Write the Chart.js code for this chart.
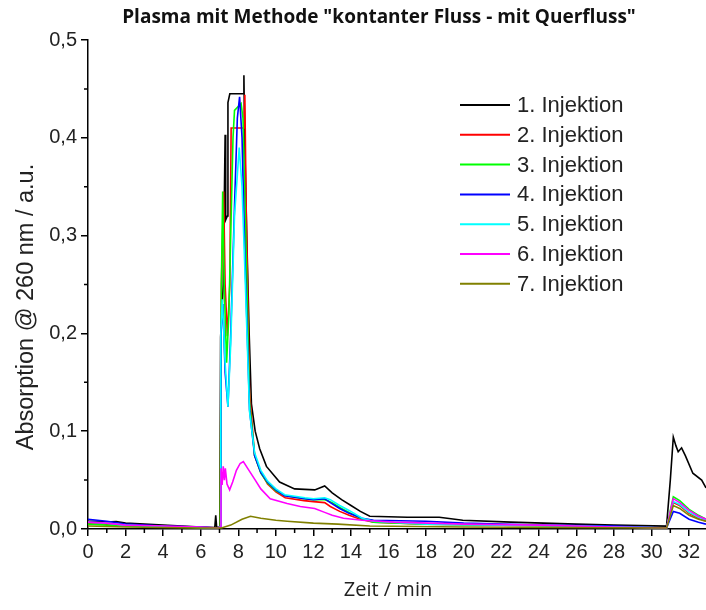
<!DOCTYPE html>
<html>
<head>
<meta charset="utf-8">
<script src="https://cdn.jsdelivr.net/npm/chart.js@4.4.1/dist/chart.umd.min.js"></script>
<style>
    html, body { margin: 0; padding: 0; background: #fff; }
    #wrap { width: 706px; height: 610px; }
</style>
</head>
<body>
<div id="wrap"><canvas id="chromChart"></canvas></div>
<script>
// Zeit (min) und Absorption je Injektion
const zeit1 = [0, 0.5, 1, 1.5, 2, 3, 4, 5, 6, 6.75, 6.8, 6.85, 7.02, 7.06, 7.2, 7.3, 7.33, 7.42, 7.45, 7.55, 8.27, 8.3, 8.34, 8.45, 8.58, 8.7, 8.9, 9.14, 9.5, 10.2, 11.0, 12.07, 12.6, 13.0, 13.5, 14.0, 14.5, 15.0, 17, 18.7, 19.95, 22.5, 26, 28, 30.8, 31.0, 31.16, 31.3, 31.42, 31.6, 31.8, 32.2, 32.67, 32.9];
const abs1 = [0.008, 0.008, 0.007, 0.0075, 0.006, 0.005, 0.004, 0.003, 0.002, 0.0015, 0.014, 0.0015, 0.002, 0.196, 0.25, 0.403, 0.316, 0.32, 0.436, 0.445, 0.445, 0.464, 0.40, 0.30, 0.20, 0.128, 0.10, 0.082, 0.064, 0.048, 0.041, 0.040, 0.044, 0.037, 0.030, 0.024, 0.018, 0.013, 0.012, 0.012, 0.009, 0.007, 0.005, 0.004, 0.003, 0.05, 0.094, 0.085, 0.079, 0.083, 0.075, 0.057, 0.050, 0.042];

const zeit2 = [0, 1, 2, 3, 5, 6.9, 7.04, 7.1, 7.22, 7.3, 7.42, 7.55, 7.62, 8.3, 8.35, 8.42, 8.6, 8.87, 9.2, 9.56, 10.0, 10.5, 11.5, 12.0, 12.6, 12.9, 13.4, 13.9, 14.5, 15.2, 18, 22, 26, 30.8, 31.16, 31.5, 32.0, 32.5, 32.9];
const abs2 = [0.006, 0.005, 0.004, 0.003, 0.002, 0.001, 0.002, 0.25, 0.345, 0.25, 0.197, 0.25, 0.41, 0.41, 0.444, 0.33, 0.14, 0.075, 0.058, 0.046, 0.038, 0.032, 0.029, 0.028, 0.027, 0.023, 0.018, 0.014, 0.010, 0.007, 0.005, 0.004, 0.003, 0.001, 0.027, 0.024, 0.016, 0.011, 0.008];

const zeit3 = [0, 1, 2, 4, 6.9, 7.04, 7.1, 7.17, 7.25, 7.38, 7.5, 7.72, 7.8, 8.15, 8.25, 8.4, 8.6, 8.87, 9.2, 9.56, 10.0, 10.5, 11.5, 12.0, 12.6, 13.0, 13.5, 14.0, 14.5, 15.2, 18, 22, 26, 30.8, 31.16, 31.5, 32.0, 32.5, 32.9];
const abs3 = [0.005, 0.004, 0.003, 0.002, 0.001, 0.002, 0.25, 0.345, 0.25, 0.17, 0.22, 0.40, 0.428, 0.435, 0.42, 0.30, 0.13, 0.075, 0.057, 0.047, 0.039, 0.034, 0.031, 0.030, 0.030, 0.027, 0.021, 0.016, 0.011, 0.007, 0.005, 0.004, 0.003, 0.001, 0.033, 0.029, 0.020, 0.014, 0.010];

const zeit4 = [0, 0.5, 1, 2, 3, 4, 6, 6.9, 7.04, 7.08, 7.18, 7.3, 7.45, 7.6, 7.8, 7.95, 8.07, 8.2, 8.36, 8.6, 8.87, 9.2, 9.56, 10.0, 10.47, 11.55, 12.0, 12.6, 12.9, 13.4, 13.9, 14.6, 15.2, 18, 20, 24, 28, 30.8, 31.16, 31.5, 32.0, 32.5, 32.9];
const abs4 = [0.010, 0.009, 0.008, 0.005, 0.004, 0.003, 0.002, 0.001, 0.002, 0.20, 0.23, 0.16, 0.125, 0.20, 0.33, 0.42, 0.442, 0.40, 0.275, 0.122, 0.075, 0.058, 0.048, 0.040, 0.034, 0.031, 0.030, 0.031, 0.027, 0.021, 0.016, 0.011, 0.009, 0.008, 0.006, 0.004, 0.003, 0.001, 0.018, 0.016, 0.010, 0.007, 0.005];

const zeit5 = [0, 1, 2, 3, 5, 6.9, 7.04, 7.07, 7.15, 7.3, 7.45, 7.6, 7.8, 8.05, 8.2, 8.36, 8.6, 8.87, 9.2, 9.56, 10.0, 10.47, 11.55, 12.0, 12.6, 12.9, 13.4, 13.9, 14.6, 15.2, 18, 22, 26, 30.8, 31.16, 31.5, 32.0, 32.5, 32.9];
const abs5 = [0.007, 0.006, 0.004, 0.003, 0.002, 0.001, 0.002, 0.20, 0.235, 0.17, 0.125, 0.19, 0.32, 0.39, 0.35, 0.26, 0.12, 0.078, 0.060, 0.049, 0.041, 0.035, 0.032, 0.031, 0.032, 0.030, 0.024, 0.019, 0.011, 0.008, 0.005, 0.004, 0.003, 0.001, 0.028, 0.025, 0.017, 0.012, 0.009];

const zeit6 = [0, 1, 2, 4, 6, 6.9, 7.04, 7.08, 7.14, 7.2, 7.26, 7.31, 7.4, 7.54, 7.7, 7.9, 8.1, 8.27, 8.5, 8.87, 9.2, 9.7, 10.6, 11.3, 12.07, 12.6, 13.0, 13.6, 14.6, 16.3, 20, 24, 28, 30.8, 31.16, 31.5, 32.0, 32.5, 32.9];
const abs6 = [0.007, 0.006, 0.004, 0.003, 0.002, 0.001, 0.002, 0.062, 0.045, 0.064, 0.05, 0.062, 0.046, 0.040, 0.048, 0.060, 0.067, 0.069, 0.062, 0.051, 0.041, 0.031, 0.026, 0.023, 0.021, 0.017, 0.014, 0.011, 0.009, 0.007, 0.005, 0.004, 0.002, 0.001, 0.031, 0.027, 0.019, 0.013, 0.010];

const zeit7 = [0, 2, 4, 6, 7.1, 7.6, 8.2, 8.65, 9.2, 10.0, 10.6, 12.0, 13.3, 15, 20, 30.8, 31.16, 31.5, 32.0, 32.5, 32.9];
const abs7 = [0.003, 0.002, 0.0015, 0.001, 0.001, 0.004, 0.010, 0.013, 0.011, 0.009, 0.008, 0.006, 0.005, 0.003, 0.002, 0.001, 0.024, 0.021, 0.014, 0.010, 0.008];

const serienNamen = ['1. Injektion', '2. Injektion', '3. Injektion', '4. Injektion', '5. Injektion', '6. Injektion', '7. Injektion'];
const yTicks = [0, 0.1, 0.2, 0.3, 0.4, 0.5];

const zeiten = [zeit1, zeit2, zeit3, zeit4, zeit5, zeit6, zeit7];
const werte = [abs1, abs2, abs3, abs4, abs5, abs6, abs7];
const farben = ['#000000', '#ff0000', '#00ff00', '#0000ff', '#00ffff', '#ff00ff', '#808000'];

const datasets = serienNamen.map((name, i) => ({
    label: name,
    data: zeiten[i].map((t, k) => ({ x: t, y: werte[i][k] })),
    borderColor: farben[i],
    borderWidth: 1.6,
    pointRadius: 0,
    tension: 0,
    fill: false,
    order: 7 - i
}));

// Titel, Achsentitel, Legende und kleine Teilstriche selbst zeichnen
const extras = {
    id: 'extras',
    afterDraw(chart) {
        const { ctx, scales: { x, y } } = chart;
        ctx.save();
        ctx.strokeStyle = '#000';
        ctx.lineWidth = 1.5;
        ctx.beginPath();
        for (let v = 1; v < x.max; v += 2) {
            const px = x.getPixelForValue(v);
            ctx.moveTo(px, y.bottom);
            ctx.lineTo(px, y.bottom + 4);
        }
        for (let v = 0.05; v < y.max; v += 0.1) {
            const py = y.getPixelForValue(v);
            ctx.moveTo(x.left, py);
            ctx.lineTo(x.left - 4, py);
        }
        ctx.stroke();

        ctx.fillStyle = '#111';
        ctx.font = 'bold 19px "Open Sans"';
        ctx.textAlign = 'center';
        ctx.textBaseline = 'middle';
        ctx.fillText('Plasma mit Methode "kontanter Fluss - mit Querfluss"', 379, 18);

        ctx.fillStyle = '#222';
        ctx.font = '20px "Open Sans"';
        ctx.fillText('Zeit / min', 388, 590);

        ctx.save();
        ctx.translate(27, 307);
        ctx.rotate(-Math.PI / 2);
        ctx.font = '23.5px "Liberation Sans"';
        ctx.fillText('Absorption @ 260 nm / a.u.', 0, 0);
        ctx.restore();

        ctx.font = '22px "Liberation Sans"';
        ctx.textAlign = 'left';
        chart.data.datasets.forEach((ds, i) => {
            const ry = 105 + i * 29.8;
            ctx.strokeStyle = ds.borderColor;
            ctx.lineWidth = 2;
            ctx.beginPath();
            ctx.moveTo(460, ry);
            ctx.lineTo(510, ry);
            ctx.stroke();
            ctx.fillStyle = '#222';
            ctx.fillText(ds.label, 517, ry + 1);
        });
        ctx.restore();
    }
};

new Chart(document.getElementById('chromChart'), {
    type: 'line',
    data: { datasets },
    options: {
        responsive: true,
        maintainAspectRatio: false,
        animation: false,
        layout: { padding: { top: 40, left: 0, right: 0, bottom: 0 } },
        plugins: {
            legend: { display: false },
            tooltip: { enabled: false }
        },
        scales: {
            x: {
                type: 'linear',
                min: 0,
                max: 32.9,
                border: { color: '#000', width: 1.5 },
                grid: { drawOnChartArea: false, color: '#000', lineWidth: 1.5, tickLength: 7 },
                ticks: {
                    stepSize: 2,
                    includeBounds: false,
                    autoSkip: false,
                    maxRotation: 0,
                    padding: 4,
                    color: '#222',
                    font: { family: '"Liberation Sans"', size: 20 },
                    callback: value => String(value)
                },
                afterFit(scale) { scale.height = 81; }
            },
            y: {
                min: 0,
                max: 0.5,
                border: { color: '#000', width: 1.5 },
                grid: { drawOnChartArea: false, color: '#000', lineWidth: 1.5, tickLength: 7 },
                afterBuildTicks(scale) { scale.ticks = yTicks.map(v => ({ value: v })); },
                ticks: {
                    padding: 4,
                    color: '#222',
                    font: { family: '"Liberation Sans"', size: 20 },
                    callback: value => value.toFixed(1).replace('.', ',')
                },
                afterFit(scale) { scale.width = 88; }
            }
        }
    },
    plugins: [extras]
});
</script>
</body>
</html>
